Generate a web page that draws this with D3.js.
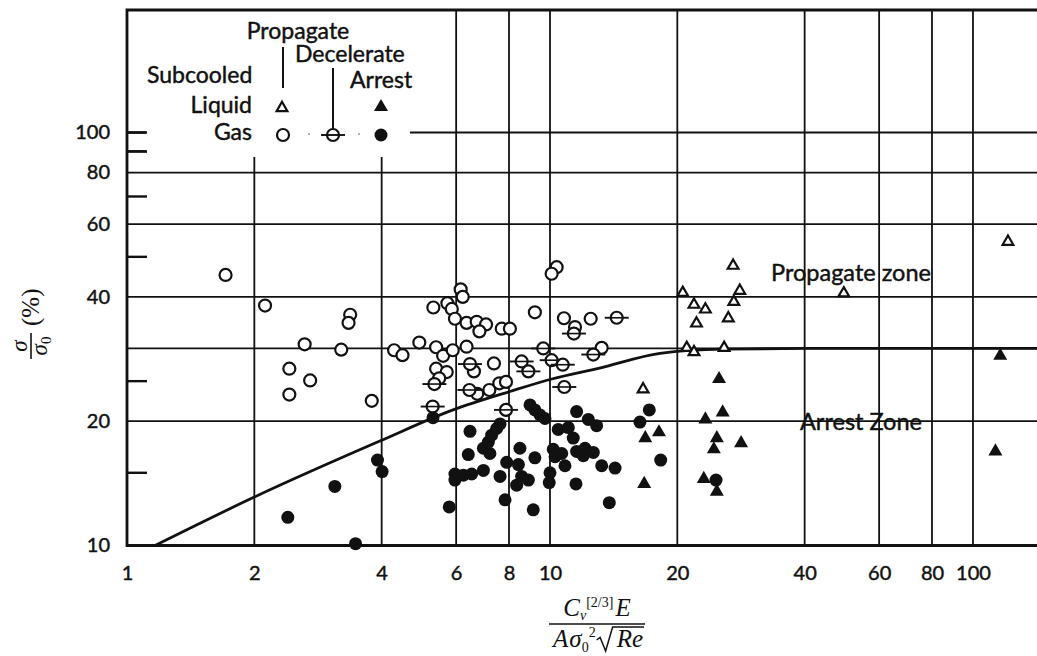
<!DOCTYPE html>
<html><head><meta charset="utf-8">
<script src="https://cdn.jsdelivr.net/npm/d3@7/dist/d3.min.js"></script>
<style>
body{margin:0;background:#fff;}
svg{display:block;background:#fff;}
</style></head><body>
<svg id="chart" width="1037" height="656"></svg>
<script>
// ---------------- data ----------------
const xTickValues = [1, 2, 4, 6, 8, 10, 20, 40, 60, 80, 100];
const yTickValues = [10, 20, 40, 60, 80, 100];
const yGridValues = [20, 30, 40, 60, 80];
const yMinorValues = [15, 25, 50, 70, 90, 100];
const xGridFull = [6, 8, 10, 20, 40, 60, 80, 100];
const xGridPartial = [2, 4];

// Gas, propagate (open circles)
const gasPropagate = [
  [1.71,45.2],[2.12,38.1],[3.37,36.2],[3.34,34.6],[2.63,30.7],[3.21,29.8],[2.42,26.8],[2.71,25.1],
  [2.42,23.2],[3.79,22.4],[4.28,29.7],[4.48,28.9],[4.91,31.0],[10.37,47.2],[10.09,45.5],[6.15,41.7],
  [6.22,40.0],[5.30,37.7],[5.72,38.6],[5.86,37.4],[5.96,35.4],[6.35,34.6],[6.71,34.8],[7.06,34.3],
  [6.81,33.0],[9.21,36.7],[10.79,35.5],[11.46,33.8],[12.48,35.4],[7.69,33.5],[8.04,33.5],
  [5.38,30.2],[5.59,28.8],[5.89,29.7],[6.35,30.3],[6.61,26.4],[7.37,27.6],[5.38,26.8],[5.70,26.3],
  [5.47,25.4],[6.73,23.3],[7.19,23.8],[7.59,24.7],[7.87,24.9],[13.25,30.1]
];
// Gas, decelerate (open circles with bar)
const gasDecelerate = [
  [11.39,32.6],[14.38,35.6],[6.47,27.5],[5.33,24.6],[8.57,27.9],[8.89,26.4],[9.64,30.0],[10.09,28.1],
  [10.72,27.4],[12.66,29.0],[6.45,23.8],[10.81,24.2],[5.28,21.7],[7.87,21.3]
];
// Gas, arrest (filled circles)
const gasArrest = [
  [5.29,20.4],[3.91,16.1],[4.01,15.1],[3.10,13.9],[2.40,11.7],[3.47,10.1],[6.47,18.9],[6.41,16.6],
  [5.96,14.9],[5.96,14.4],[6.24,14.8],[6.53,14.9],[6.96,15.2],[5.78,12.4],[6.96,17.2],[7.15,17.8],
  [7.28,18.5],[7.48,19.2],[7.62,19.7],[7.21,16.7],[7.62,14.7],[7.90,15.9],[7.83,12.9],[8.49,17.2],
  [8.42,15.7],[8.57,14.7],[8.34,14.0],[8.89,14.4],[9.21,16.3],[9.13,12.2],[8.97,21.9],[9.21,21.3],
  [9.47,20.7],[9.73,20.3],[10.0,15.0],[9.96,14.2],[10.18,17.1],[10.28,16.4],[10.66,16.7],[10.46,19.1],
  [11.05,19.3],[11.35,18.2],[11.56,21.1],[12.32,20.2],[12.89,19.5],[10.85,15.6],[11.56,16.9],[12.10,17.2],
  [11.99,16.5],[12.66,16.8],[13.25,15.6],[14.25,15.4],[11.52,14.1],[13.81,12.7],[16.32,19.9],[17.17,21.3],
  [18.27,16.1],[24.69,14.4]
];
// Subcooled liquid, propagate (open triangles)
const liquidPropagate = [
  [27.1,47.6],[20.6,40.9],[28.1,41.4],[21.9,38.3],[23.3,37.3],[27.2,38.9],[22.2,34.5],[26.4,35.5],
  [21.05,30.1],[21.9,29.4],[25.8,30.1],[49.5,40.8],[121,54.4],[16.6,23.9]
];
// Subcooled liquid, arrest (filled triangles)
const liquidArrest = [
  [25.1,25.3],[25.6,21.0],[23.3,20.2],[24.8,18.2],[24.4,17.1],[28.3,17.7],[18.1,18.8],[16.8,18.2],
  [16.7,14.1],[23.1,14.5],[24.8,13.5],[116,28.8],[113,16.9]
];
// Boundary curve between propagate and arrest zones
const boundary = [
  [1.165,10],[2.0,13.1],[3.96,17.9],[5.9,21.3],[8.04,23.6],[10.1,25.3],[13.1,26.9],[18.2,29.2],
  [25.6,29.9],[40,30],[142,30]
];
const zoneLabels = ["Propagate zone", "Arrest Zone"];
const legendHeads = ["Propagate", "Decelerate", "Arrest", "Subcooled"];
const legendRows = ["Liquid", "Gas"];

// ---------------- scales ----------------
const svg = d3.select("#chart");
const ink = "#111";
const x = d3.scaleLog().domain([1, 141.7]).range([127, 1037]);
const y = d3.scaleLog().domain([10, 198]).range([545.5, 10]);
const plotTop = y.range()[1], plotBot = y.range()[0], plotLeft = x.range()[0], plotRight = x.range()[1];

// ---------------- grid ----------------
const grid = svg.append("g").attr("stroke", ink).attr("stroke-width", 1.8);
grid.selectAll(".vf").data(xGridFull).join("line")
  .attr("x1", d => x(d)).attr("x2", d => x(d)).attr("y1", plotTop).attr("y2", plotBot);
grid.selectAll(".vp").data(xGridPartial).join("line")
  .attr("x1", d => x(d)).attr("x2", d => x(d)).attr("y1", 157).attr("y2", plotBot);
grid.selectAll(".hg").data(yGridValues).join("line")
  .attr("x1", plotLeft).attr("x2", plotRight).attr("y1", d => y(d)).attr("y2", d => y(d));
grid.selectAll(".hm").data(yMinorValues).join("line")
  .attr("x1", plotLeft).attr("x2", plotLeft + 20).attr("y1", d => y(d)).attr("y2", d => y(d)).attr("stroke-width", 2.4);
grid.append("line").attr("x1", 410).attr("x2", plotRight).attr("y1", y(100)).attr("y2", y(100));

// frame
const frame = svg.append("g").attr("stroke", ink).attr("stroke-width", 2.8).attr("fill", "none");
frame.append("path").attr("d", `M${plotRight},${plotTop}H${plotLeft}V${plotBot}H${plotRight}`);

// ---------------- axes labels ----------------
const fontSans = "Lato, 'Open Sans', sans-serif";
const heavy = sel => sel.attr("stroke", ink).attr("stroke-width", 0.45);
const xAxis = svg.append("g").attr("transform", `translate(0,${plotBot})`)
  .call(d3.axisBottom(x).tickValues(xTickValues).tickFormat(d3.format("d")).tickSize(0).tickPadding(20));
xAxis.select(".domain").remove();
xAxis.selectAll("text").attr("font-family", fontSans).attr("font-size", 20).attr("fill", ink).call(heavy);

const yAxis = svg.append("g").attr("transform", `translate(${plotLeft},0)`)
  .call(d3.axisLeft(y).tickValues(yTickValues).tickFormat(d3.format("d")).tickSize(0).tickPadding(17));
yAxis.select(".domain").remove();
yAxis.selectAll("text").attr("font-family", fontSans).attr("font-size", 20).attr("fill", ink).call(heavy);

// ---------------- boundary curve ----------------
svg.append("path").datum(boundary)
  .attr("d", d3.line().x(d => x(d[0])).y(d => y(d[1])).curve(d3.curveMonotoneX))
  .attr("fill", "none").attr("stroke", ink).attr("stroke-width", 2.8);

// ---------------- markers ----------------
const triOpen = d3.symbol(d3.symbolTriangle, 50)();
const triFill = d3.symbol(d3.symbolTriangle, 85)();
const marks = svg.append("g");
marks.selectAll(".gp").data(gasPropagate).join("circle")
  .attr("cx", d => x(d[0])).attr("cy", d => y(d[1])).attr("r", 6)
  .attr("fill", "#fff").attr("stroke", ink).attr("stroke-width", 2.2);
const dec = marks.selectAll(".gd").data(gasDecelerate).join("g")
  .attr("transform", d => `translate(${x(d[0])},${y(d[1])})`);
dec.append("line").attr("x1", -12).attr("x2", 12).attr("stroke", ink).attr("stroke-width", 1.9);
dec.append("circle").attr("r", 6).attr("fill", "#fff").attr("stroke", ink).attr("stroke-width", 2.2);
dec.append("line").attr("x1", -6).attr("x2", 6).attr("stroke", ink).attr("stroke-width", 1.6);
marks.selectAll(".ga").data(gasArrest).join("circle")
  .attr("cx", d => x(d[0])).attr("cy", d => y(d[1])).attr("r", 6.5).attr("fill", ink);
marks.selectAll(".lp").data(liquidPropagate).join("path")
  .attr("d", triOpen).attr("transform", d => `translate(${x(d[0])},${y(d[1])})`)
  .attr("fill", "#fff").attr("stroke", ink).attr("stroke-width", 2.2);
marks.selectAll(".la").data(liquidArrest).join("path")
  .attr("d", triFill).attr("transform", d => `translate(${x(d[0])},${y(d[1])})`)
  .attr("fill", ink);

// ---------------- zone labels ----------------
svg.append("text").text(zoneLabels[0]).attr("x", 771).attr("y", 281)
  .attr("font-family", fontSans).attr("font-size", 23.5).attr("fill", ink).call(heavy);
svg.append("text").text(zoneLabels[1]).attr("x", 800).attr("y", 430)
  .attr("font-family", fontSans).attr("font-size", 23.5).attr("fill", ink).call(heavy);

// ---------------- legend ----------------
const lg = svg.append("g").attr("font-family", fontSans).attr("font-size", 23).attr("fill", ink);
lg.append("rect").attr("x", 146).attr("y", 15).attr("width", 262).attr("height", 137).attr("fill", "#fff");
const lt = lg.append("g").call(heavy);
lt.append("text").text(legendHeads[0]).attr("x", 298).attr("y", 39).attr("text-anchor", "middle");
lt.append("text").text(legendHeads[1]).attr("x", 295).attr("y", 62);
lt.append("text").text(legendHeads[2]).attr("x", 350).attr("y", 88);
lt.append("text").text(legendHeads[3]).attr("x", 147).attr("y", 83);
lt.append("text").text(legendRows[0]).attr("x", 252).attr("y", 113).attr("text-anchor", "end");
lt.append("text").text(legendRows[1]).attr("x", 252).attr("y", 140).attr("text-anchor", "end");
lg.append("line").attr("x1", 283).attr("x2", 283).attr("y1", 47).attr("y2", 88).attr("stroke", ink).attr("stroke-width", 2);
lg.append("line").attr("x1", 333).attr("x2", 333).attr("y1", 68).attr("y2", 129).attr("stroke", ink).attr("stroke-width", 2);
lg.append("path").attr("d", triOpen).attr("transform", "translate(282,108)")
  .attr("fill", "#fff").attr("stroke", ink).attr("stroke-width", 2.2);
lg.append("path").attr("d", triFill).attr("transform", "translate(381,107)").attr("fill", ink);
lg.append("circle").attr("cx", 283).attr("cy", 135).attr("r", 6).attr("fill", "#fff").attr("stroke", ink).attr("stroke-width", 2.2);
lg.append("line").attr("x1", 321).attr("x2", 345).attr("y1", 135).attr("y2", 135).attr("stroke", ink).attr("stroke-width", 1.9);
lg.append("circle").attr("cx", 333).attr("cy", 135).attr("r", 6).attr("fill", "none").attr("stroke", ink).attr("stroke-width", 2.2);
lg.append("circle").attr("cx", 381).attr("cy", 135).attr("r", 6.5).attr("fill", ink);
lg.selectAll(".dot").data([309, 359]).join("circle").attr("cx", d => d).attr("cy", 134).attr("r", 1).attr("fill", "#999");
svg.append("line").attr("x1", plotLeft).attr("x2", plotLeft + 20).attr("y1", y(100)).attr("y2", y(100)).attr("stroke", ink).attr("stroke-width", 2.4);
svg.append("line").attr("x1", plotLeft).attr("x2", plotLeft + 20).attr("y1", y(90)).attr("y2", y(90)).attr("stroke", ink).attr("stroke-width", 2.4);

// ---------------- x-axis title (math fraction) ----------------
const serif = "'Liberation Serif', 'DejaVu Serif', serif";
const big = 25, small = 14;
const fracCx = 597, barY = 624;
const xt = svg.append("g").attr("font-family", serif).attr("fill", ink);
const numT = xt.append("text").attr("x", 0).attr("y", 0).attr("font-size", big);
numT.append("tspan").text("C").attr("font-style", "italic");
numT.append("tspan").text("v").attr("font-style", "italic").attr("font-size", small).attr("dy", 4);
numT.append("tspan").text("[2/3]").attr("font-size", small).attr("dy", -13);
numT.append("tspan").text("E").attr("font-style", "italic").attr("dx", 2).attr("dy", 9);
const denT = xt.append("text").attr("x", 0).attr("y", 0).attr("font-size", big);
denT.append("tspan").text("A").attr("font-style", "italic");
denT.append("tspan").text("σ").attr("font-style", "italic").attr("dx", 1);
denT.append("tspan").text("0").attr("font-size", small).attr("dy", 5);
denT.append("tspan").text("2").attr("font-size", small).attr("dy", -15);
denT.append("tspan").text("Re").attr("font-style", "italic").attr("dx", 21).attr("dy", 10);
const nb = numT.node().getBBox(), db = denT.node().getBBox();
const denShiftX = fracCx - db.x - db.width / 2, denBase = barY + 23;
numT.attr("transform", `translate(${fracCx - nb.x - nb.width / 2},${barY - 8})`);
denT.attr("transform", `translate(${denShiftX},${denBase})`);
const rExt = denT.node().getExtentOfChar(4), eExt = denT.node().getExtentOfChar(5);
const rX = rExt.x, reEnd = eExt.x + eExt.width;
xt.append("path")
  .attr("transform", `translate(${denShiftX},${denBase})`)
  .attr("d", `M${rX - 20},-7 L${rX - 16.5},-9.5 L${rX - 11},4 L${rX - 4},-20 H${reEnd + 1}`)
  .attr("fill", "none").attr("stroke", ink).attr("stroke-width", 1.5);
const fracW = Math.max(nb.width, db.width) + 4;
xt.append("line").attr("x1", fracCx - fracW / 2).attr("x2", fracCx + fracW / 2)
  .attr("y1", barY).attr("y2", barY).attr("stroke", ink).attr("stroke-width", 1.6);

// ---------------- y-axis title ----------------
const yt = svg.append("g").attr("transform", "translate(31,322) rotate(-90)")
  .attr("font-family", serif).attr("fill", ink);
yt.append("line").attr("x1", -37).attr("x2", -11).attr("y1", 0).attr("y2", 0).attr("stroke", ink).attr("stroke-width", 1.6);
yt.append("text").text("σ").attr("x", -24).attr("y", -4).attr("text-anchor", "middle").attr("font-size", 23).attr("font-style", "italic");
const sd = yt.append("text").attr("x", -24).attr("y", 16).attr("text-anchor", "middle").attr("font-size", 23);
sd.append("tspan").text("σ").attr("font-style", "italic");
sd.append("tspan").text("0").attr("font-size", 15).attr("dy", 4);
yt.append("text").text("(%)").attr("x", -4).attr("y", 8).attr("font-size", 25);
</script>
</body></html>
